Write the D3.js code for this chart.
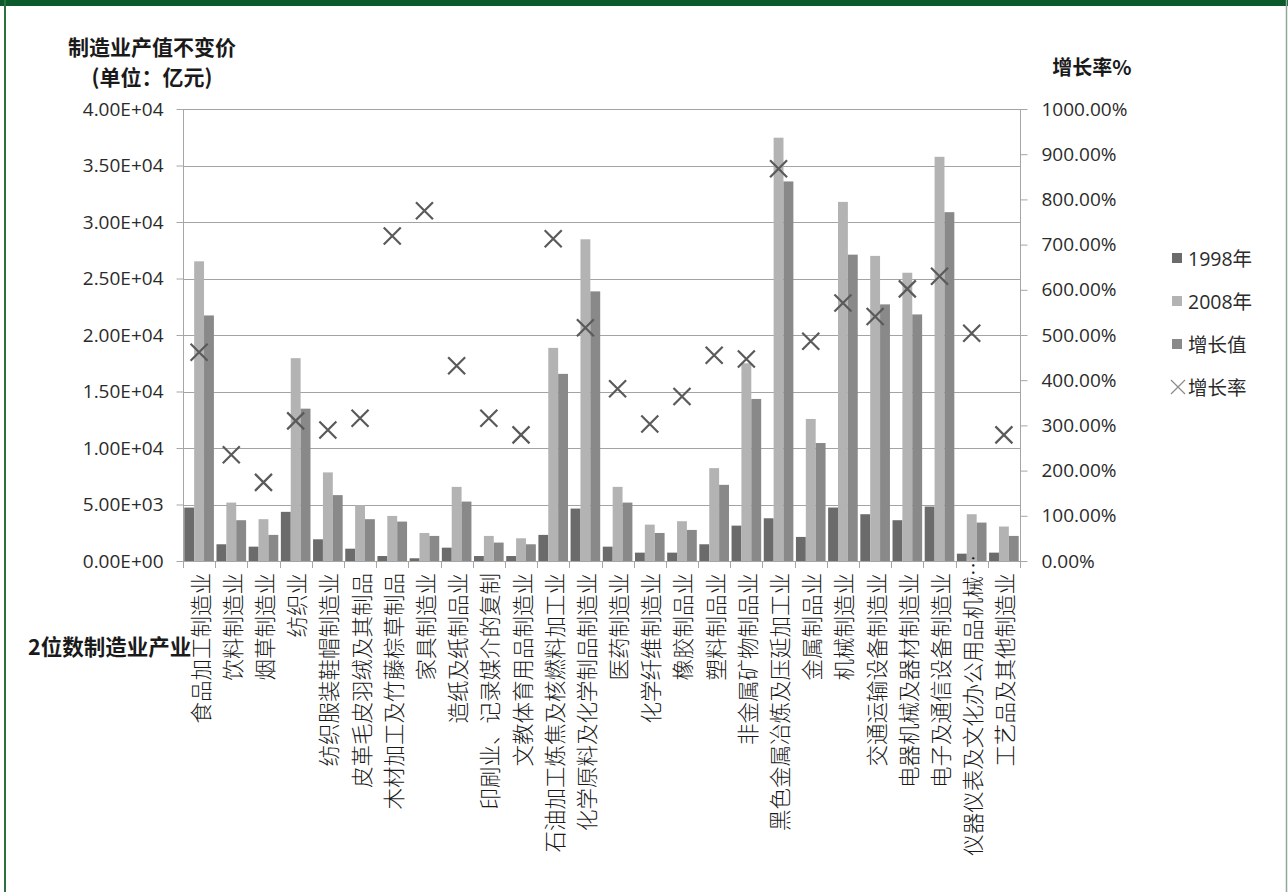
<!DOCTYPE html>
<html>
<head>
<meta charset="utf-8">
<script src="https://cdn.jsdelivr.net/npm/d3@7"></script>
<style>
  body { margin: 0; background: #fff; }
  svg { display: block; font-family: "Open Sans", "Noto Sans CJK SC", sans-serif; }
</style>
</head>
<body>
<svg id="chart"></svg>
<script>
// 2位数制造业产业
const categories = ['食品加工制造业', '饮料制造业', '烟草制造业', '纺织业', '纺织服装鞋帽制造业',
  '皮革毛皮羽绒及其制品', '木材加工及竹藤棕草制品', '家具制造业', '造纸及纸制品业', '印刷业、记录媒介的复制',
  '文教体育用品制造业', '石油加工炼焦及核燃料加工业', '化学原料及化学制品制造业', '医药制造业', '化学纤维制造业',
  '橡胶制品业', '塑料制品业', '非金属矿物制品业', '黑色金属冶炼及压延加工业', '金属制品业',
  '机械制造业', '交通运输设备制造业', '电器机械及器材制造业', '电子及通信设备制造业', '仪器仪表及文化办公用品机械…',
  '工艺品及其他制造业'];

const seriesNames = ['1998年', '2008年', '增长值'];
const v1998 = [4730, 1480, 1270, 4350, 1920, 1090, 440, 240, 1180, 440,
  440, 2310, 4640, 1270, 740, 740, 1480, 3130, 3780, 2130,
  4730, 4140, 3610, 4820, 650, 740];
const v2008 = [26520, 5170, 3700, 17950, 7840, 4940, 3990, 2480, 6560, 2220,
  2010, 18860, 28470, 6560, 3220, 3520, 8220, 17500, 37460, 12570,
  31780, 27000, 25510, 35770, 4140, 3050];
const vGrowth = [21730, 3610, 2310, 13480, 5830, 3700, 3490, 2220, 5260, 1630,
  1480, 16560, 23860, 5170, 2480, 2750, 6740, 14340, 33590, 10440,
  27110, 22710, 21820, 30870, 3400, 2220];
const growthRate = [4.62, 2.35, 1.74, 3.10, 2.90, 3.16, 7.19, 7.75, 4.32, 3.16,
  2.79, 7.13, 5.16, 3.81, 3.03, 3.64, 4.55, 4.47, 8.68, 4.86,
  5.71, 5.41, 6.02, 6.30, 5.04, 2.79];

const leftTicks = [0, 5000, 10000, 15000, 20000, 25000, 30000, 35000, 40000];
const rightTicks = [0, 1, 2, 3, 4, 5, 6, 7, 8, 9, 10];

const colors = ['#6b6b6b', '#b3b3b3', '#898989'];
const markColor = '#5a5a5a';

const W = 1288, H = 892;
const pLeft = 183, pRight = 1020, pTop = 109, pBottom = 561;

const svg = d3.select('#chart').attr('width', W).attr('height', H);

// frame
svg.append('rect').attr('x', 0).attr('y', 0).attr('width', W).attr('height', 6).attr('fill', '#0b5a2b');
svg.append('line').attr('x1', 5).attr('x2', 5).attr('y1', 0).attr('y2', H)
  .attr('stroke', '#2a7040').attr('stroke-width', 2);
svg.append('line').attr('x1', 1286.5).attr('x2', 1286.5).attr('y1', 0).attr('y2', H)
  .attr('stroke', '#8fa898').attr('stroke-width', 1.5);

const x = d3.scaleBand().domain(categories).range([pLeft, pRight]);
const xb = d3.scaleBand().domain(categories).range([pLeft, pRight]).paddingInner(0.08).paddingOuter(0.04);
const xs = d3.scaleBand().domain(seriesNames).range([0, xb.bandwidth()]);
const y = d3.scaleLinear().domain([0, 40000]).range([pBottom, pTop]);
const y2 = d3.scaleLinear().domain([0, 10]).range([pBottom, pTop]);

const fmtE = v => {
  const [m, e] = d3.format('.2e')(v).split('e');
  const n = +e;
  return m + 'E' + (n < 0 ? '-' : '+') + String(Math.abs(n)).padStart(2, '0');
};

// gridlines
svg.append('g').selectAll('line').data(leftTicks.filter(d => d > 0)).join('line')
  .attr('x1', pLeft).attr('x2', pRight)
  .attr('y1', d => Math.round(y(d)) + 0.5).attr('y2', d => Math.round(y(d)) + 0.5)
  .attr('stroke', '#a3a3a3').attr('stroke-width', 1);

// bars
const data = categories.map((c, i) => ({ c, vals: [v1998[i], v2008[i], vGrowth[i]] }));
svg.append('g').selectAll('g').data(data).join('g')
  .attr('transform', d => `translate(${xb(d.c)},0)`)
  .selectAll('rect').data(d => d.vals.map((v, k) => ({ v, k }))).join('rect')
  .attr('x', d => xs(seriesNames[d.k]))
  .attr('width', xs.bandwidth())
  .attr('y', d => y(d.v))
  .attr('height', d => pBottom - y(d.v))
  .attr('fill', d => colors[d.k]);

// axes
const axisColor = '#a6a6a6';
const yAxisL = svg.append('g').attr('transform', `translate(${pLeft + 0.5},0)`)
  .call(d3.axisLeft(y).tickValues(leftTicks).tickFormat(fmtE).tickSize(7).tickPadding(13));
const yAxisR = svg.append('g').attr('transform', `translate(${pRight + 0.5},0)`)
  .call(d3.axisRight(y2).tickValues(rightTicks).tickFormat(d3.format('.2%')).tickSize(7).tickPadding(14));
[yAxisL, yAxisR].forEach(g => {
  g.select('.domain').attr('stroke', axisColor).attr('d', `M0,${pTop}V${pBottom}`);
  g.selectAll('.tick line').attr('stroke', axisColor);
  g.selectAll('.tick text').attr('fill', '#2b2b2b').attr('font-family', '"Open Sans", sans-serif');
});
yAxisL.selectAll('.tick text').attr('font-size', 19);
yAxisR.selectAll('.tick text').attr('font-size', 19);

// category axis
const boundaries = categories.map(c => x(c)).concat([pRight]);
svg.append('line').attr('x1', pLeft).attr('x2', pRight)
  .attr('y1', pBottom + 0.5).attr('y2', pBottom + 0.5).attr('stroke', axisColor);
svg.append('g').selectAll('line').data(boundaries).join('line')
  .attr('x1', d => Math.round(d) + 0.5).attr('x2', d => Math.round(d) + 0.5)
  .attr('y1', pBottom).attr('y2', pBottom + 7).attr('stroke', axisColor);

const labelSize = 21.5;
svg.append('g').selectAll('text').data(categories).join('text')
  .attr('transform', d => {
    const cx = x(d) + x.bandwidth() / 2;
    const yy = d.endsWith('…') ? pBottom + 12 - labelSize * 0.85 : pBottom + 12;
    return `translate(${cx},${yy}) rotate(-90)`;
  })
  .attr('text-anchor', 'end')
  .attr('dominant-baseline', 'central')
  .attr('font-family', '"Noto Sans CJK SC", sans-serif')
  .attr('font-weight', 300)
  .attr('font-size', labelSize)
  .attr('fill', '#1a1a1a')
  .text(d => d);

// growth rate markers
const xr = 8.5;
svg.append('g').selectAll('path').data(categories).join('path')
  .attr('d', (c, i) => {
    const cx = x(c) + x.bandwidth() / 2, cy = y2(growthRate[i]);
    return `M${cx - xr},${cy - xr}L${cx + xr},${cy + xr}M${cx - xr},${cy + xr}L${cx + xr},${cy - xr}`;
  })
  .attr('stroke', markColor).attr('stroke-width', 2.2).attr('fill', 'none');

// titles
const titleL = svg.append('text').attr('text-anchor', 'middle')
  .attr('font-family', '"Noto Sans CJK SC", sans-serif').attr('font-weight', 'bold')
  .attr('font-size', 21).attr('fill', '#1a1a1a');
titleL.append('tspan').attr('x', 152).attr('y', 55).text('制造业产值不变价');
titleL.append('tspan').attr('x', 152).attr('y', 85).text('(单位：亿元)');

svg.append('text').attr('x', 1092).attr('y', 75).attr('text-anchor', 'middle')
  .attr('font-family', '"Noto Sans CJK SC", sans-serif').attr('font-weight', 'bold')
  .attr('font-size', 20).attr('fill', '#1a1a1a').text('增长率%');

svg.append('text').attr('x', 28).attr('y', 645).attr('dominant-baseline', 'central')
  .attr('font-family', '"Noto Sans CJK SC", sans-serif').attr('font-weight', 'bold')
  .attr('font-size', 21.5).attr('fill', '#1a1a1a').text('2位数制造业产业');

// legend
const legendNames = seriesNames.concat(['增长率']);
const lg = svg.append('g').attr('transform', 'translate(1172,258)');
const items = lg.selectAll('g').data(legendNames).join('g')
  .attr('transform', (d, i) => `translate(0,${i * 43})`);
items.filter((d, i) => i < 3).append('rect')
  .attr('x', 0).attr('y', -5).attr('width', 10).attr('height', 10)
  .attr('fill', (d, i) => colors[i]);
items.filter((d, i) => i === 3).append('path')
  .attr('d', 'M-1,-7L13,7M-1,7L13,-7')
  .attr('stroke', '#8a8a8a').attr('stroke-width', 1.2).attr('fill', 'none');
items.append('text').attr('x', 16).attr('y', 0).attr('dominant-baseline', 'central')
  .attr('font-size', 19.5).attr('fill', '#2b2b2b').text(d => d);
</script>
</body>
</html>
